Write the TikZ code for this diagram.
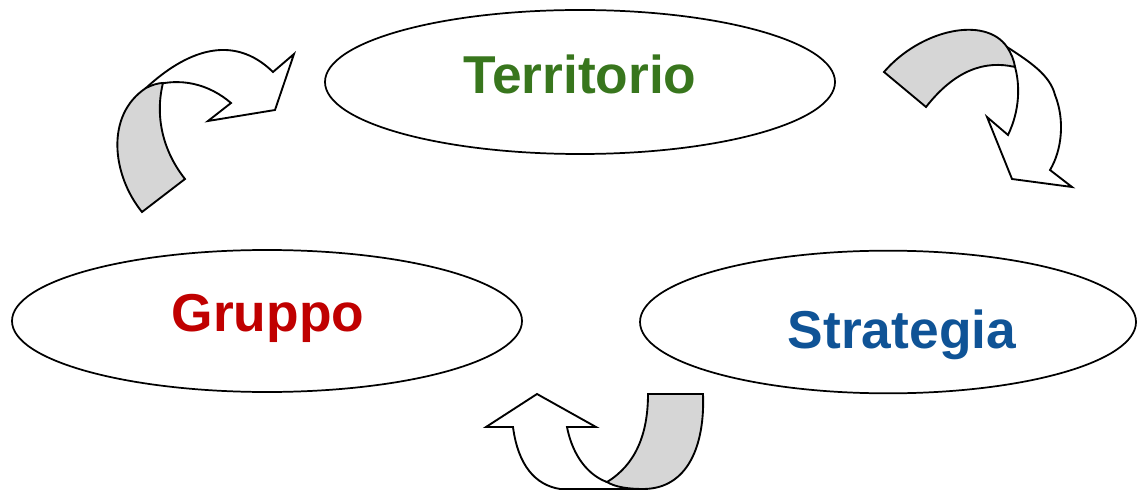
\documentclass[tikz,border=0pt]{standalone}
\usepackage{fontspec}
\setmainfont{Liberation Sans}
\usetikzlibrary{shapes.geometric}
\definecolor{terrgreen}{HTML}{38761D}
\definecolor{grupred}{HTML}{C00000}
\definecolor{stratblue}{HTML}{0F5396}
\definecolor{bandgray}{HTML}{D6D6D6}
\tikzset{
  oval/.style={draw=black, line width=1.3pt, ellipse, inner sep=0pt, fill=white},
  lbl/.style={font=\fontsize{40}{42}\selectfont\bfseries, anchor=base, inner sep=0pt},
  arrowwhite/.style={draw=black, line width=1.4pt, fill=white, line join=miter},
  arrowgray/.style={draw=black, line width=1.4pt, fill=bandgray, line join=miter},
}
\begin{document}
\begin{tikzpicture}[x=0.75pt,y=-0.75pt]
\useasboundingbox (0,0) rectangle (1137,491);

% ellipses
\node[oval, minimum width=382.5pt, minimum height=108pt] (terr) at (580,82) {};
\node[oval, minimum width=382.5pt, minimum height=106.5pt] (grup) at (267,321) {};
\node[oval, minimum width=372pt, minimum height=107pt] (strat) at (888,322) {};

\node[lbl, text=terrgreen] (terrT) at (580,94) {Territorio};
\node[lbl, text=grupred] (grupT) at (268,331) {Gruppo};
\node[lbl, text=stratblue] (stratT) at (902,348) {Strategia};

% top-left curved arrow (Gruppo -> Territorio)
\draw[arrowwhite] (146,88) .. controls (185,52) and (232,32) .. (273,72)
  -- (294,54) -- (275,110) -- (208,121) -- (231,103)
  .. controls (210,85) and (180,75) .. (146,88) -- cycle;
\draw[arrowgray] (142,212) .. controls (112,175) and (105,115) .. (146,88)
  .. controls (152,85) and (158,83) .. (163,83)
  .. controls (155,115) and (162,150) .. (185,179) -- cycle;

% top-right curved arrow (Territorio -> Strategia)
\draw[arrowwhite] (1007,47) .. controls (1030,62) and (1050,75) .. (1055,95)
  .. controls (1065,120) and (1062,150) .. (1050,170)
  -- (1072,187) -- (1012,179) -- (987,117) -- (1008,135)
  .. controls (1020,110) and (1020,85) .. (1015,67) -- cycle;
\draw[arrowgray] (884,72) .. controls (920,30) and (985,15) .. (1007,47)
  .. controls (1011,53) and (1014,60) .. (1015,67)
  .. controls (985,60) and (955,70) .. (926,107) -- cycle;

% bottom curved arrow (Strategia -> Gruppo)
\draw[arrowwhite] (513,427) -- (486,427) -- (537,394) -- (596,427) -- (567,427)
  .. controls (573,458) and (590,476) .. (607,482)
  -- (645,489) -- (560,489)
  .. controls (535,485) and (518,465) .. (513,427) -- cycle;
\draw[arrowgray] (648,394) -- (703,394)
  .. controls (705,445) and (688,489) .. (643,489)
  .. controls (628,489) and (615,487) .. (607,482)
  .. controls (635,465) and (648,435) .. (648,394) -- cycle;
\end{tikzpicture}
\end{document}
